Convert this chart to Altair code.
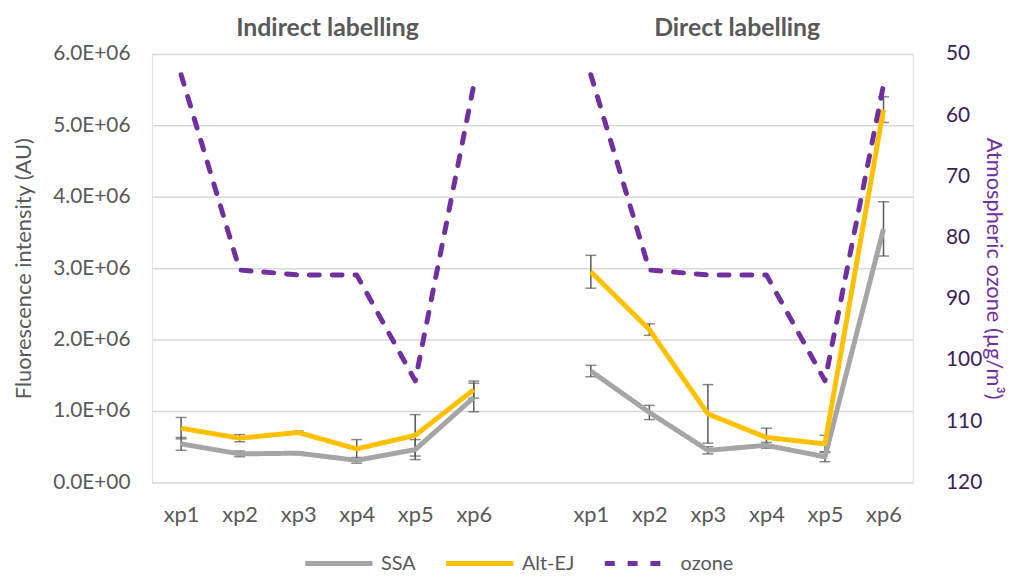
import altair as alt
import pandas as pd

categories = ["xp1", "xp2", "xp3", "xp4", "xp5", "xp6"]
groups = ["Indirect labelling", "Direct labelling"]

ssa_indirect = [0.54e6, 0.40e6, 0.41e6, 0.31e6, 0.46e6, 1.19e6]
ssa_indirect_err = [0.09e6, 0.04e6, 0.02e6, 0.04e6, 0.14e6, 0.20e6]
altej_indirect = [0.76e6, 0.62e6, 0.70e6, 0.47e6, 0.66e6, 1.30e6]
altej_indirect_err = [0.15e6, 0.05e6, 0.02e6, 0.13e6, 0.29e6, 0.12e6]

ssa_direct = [1.56e6, 0.98e6, 0.45e6, 0.52e6, 0.36e6, 3.55e6]
ssa_direct_err = [0.08e6, 0.10e6, 0.05e6, 0.04e6, 0.07e6, 0.38e6]
altej_direct = [2.95e6, 2.14e6, 0.96e6, 0.63e6, 0.54e6, 5.22e6]
altej_direct_err = [0.23e6, 0.08e6, 0.41e6, 0.13e6, 0.12e6, 0.18e6]

ozone = [53.4, 85.3, 86.1, 86.1, 103.4, 55.1]

series_names = ["SSA", "Alt-EJ", "ozone"]
series_colors = ["#A5A5A5", "#FFC000", "#7030A0"]

data = {
    ("Indirect labelling", "SSA"): (ssa_indirect, ssa_indirect_err),
    ("Indirect labelling", "Alt-EJ"): (altej_indirect, altej_indirect_err),
    ("Direct labelling", "SSA"): (ssa_direct, ssa_direct_err),
    ("Direct labelling", "Alt-EJ"): (altej_direct, altej_direct_err),
}

rows = []
for gi, g in enumerate(groups):
    for s in ["SSA", "Alt-EJ"]:
        vals, errs = data[(g, s)]
        for ci, c in enumerate(categories):
            rows.append({"slot": gi * (len(categories) + 1) + ci, "group": g,
                         "series": s, "value": vals[ci],
                         "lo": vals[ci] - errs[ci], "hi": vals[ci] + errs[ci]})
df = pd.DataFrame(rows)

orows = []
for gi, g in enumerate(groups):
    for ci, c in enumerate(categories):
        orows.append({"slot": gi * (len(categories) + 1) + ci, "group": g,
                      "series": "ozone", "value": ozone[ci]})
dfo = pd.DataFrame(orows)

dfh = pd.DataFrame({"slot": [gi * (len(categories) + 1) + (len(categories) - 1) / 2
                             for gi in range(len(groups))],
                    "text": groups})

FONT = "Lato"
GRAY = "#595959"
tick_slots = [gi * (len(categories) + 1) + ci for gi in range(len(groups)) for ci in range(len(categories))]
n_slots = len(groups) * (len(categories) + 1) - 1

x_enc = alt.X("slot:Q",
              scale=alt.Scale(domain=[-0.5, n_slots - 0.5], nice=False, zero=False),
              axis=alt.Axis(values=tick_slots, title=None, grid=False, domain=False,
                            ticks=False, labelFontSize=22, labelColor=GRAY, labelFont=FONT,
                            labelPadding=22,
                            labelExpr="'xp' + (datum.value < 6 ? datum.value + 1 : datum.value - 6)"))

y_scale = alt.Scale(domain=[0, 6e6], nice=False)
y_axis = alt.Axis(values=[0, 1e6, 2e6, 3e6, 4e6, 5e6, 6e6],
                  title="Fluorescence intensity (AU)", titleFontSize=22,
                  titleFontWeight="normal", titleColor=GRAY, titleFont=FONT,
                  titlePadding=17, labelFontSize=21, labelColor=GRAY, labelFont=FONT,
                  labelPadding=22, domain=False, ticks=False, gridColor="#D9D9D9",
                  gridWidth=1.5,
                  labelExpr="datum.value == 0 ? '0.0E+00' : format(datum.value / 1e6, '.1f') + 'E+06'")

legend_cfg = dict(title=None, orient="none", direction="horizontal",
                  legendX=152, legendY=477,
                  symbolType="stroke", symbolSize=4600,
                  symbolStrokeWidth=5, labelFontSize=20,
                  labelColor=GRAY, labelFont=FONT,
                  columnPadding=20, labelOffset=6)
color_enc = alt.Color("series:N",
                      scale=alt.Scale(domain=series_names, range=series_colors),
                      legend=alt.Legend(**legend_cfg))
dash_enc = alt.StrokeDash("series:N",
                          scale=alt.Scale(domain=series_names,
                                          range=[[1, 0], [1, 0], [10, 13]]),
                          legend=alt.Legend(**legend_cfg))

base = alt.Chart(df)

rules = base.mark_rule(color="#595959", strokeWidth=1.5).encode(
    x=x_enc, y=alt.Y("lo:Q", scale=y_scale, axis=y_axis), y2="hi:Q")
caps_hi = base.mark_tick(color="#595959", thickness=1.5, size=11, orient="horizontal").encode(
    x=x_enc, y=alt.Y("hi:Q", scale=y_scale, axis=y_axis))
caps_lo = base.mark_tick(color="#595959", thickness=1.5, size=11, orient="horizontal").encode(
    x=x_enc, y=alt.Y("lo:Q", scale=y_scale, axis=y_axis))
lines = base.mark_line(strokeWidth=5, strokeJoin="round").encode(
    x=x_enc, y=alt.Y("value:Q", scale=y_scale, axis=y_axis),
    color=color_enc, strokeDash=dash_enc, detail="group:N",
    order=alt.Order("slot:Q"))

headers = alt.Chart(dfh).mark_text(fontSize=25, fontWeight="bold", color=GRAY,
                                    font=FONT, baseline="middle").encode(
    x=x_enc, y=alt.value(-26), text="text:N")

primary = alt.layer(rules, caps_hi, caps_lo, lines, headers)

oz = alt.Chart(dfo).mark_line(strokeWidth=5, strokeCap="round", strokeJoin="round").encode(
    x=x_enc,
    y=alt.Y("value:Q",
            scale=alt.Scale(domain=[50, 120], reverse=True, nice=False, zero=False),
            axis=alt.Axis(orient="right", values=[50, 60, 70, 80, 90, 100, 110, 120],
                          title="Atmospheric ozone (µg/m³)", titleFontSize=22,
                          titleFontWeight="normal", titleColor="#7030A0", titleFont=FONT,
                          titlePadding=0, labelFontSize=21, labelColor="#3C1E5A",
                          labelFont=FONT, labelPadding=33, domain=False, ticks=False,
                          grid=False)),
    color=color_enc, strokeDash=dash_enc, detail="group:N",
    order=alt.Order("slot:Q"))

chart = alt.layer(primary, oz).resolve_scale(y="independent").properties(
    width=767, height=432,
    autosize=alt.AutoSizeParams(type="none"),
    padding={"left": 145, "top": 44, "right": 97, "bottom": 90},
).configure_view(stroke=None).configure(font=FONT)

chart.save("out.html", embed_options={"renderer": "svg", "actions": False})
